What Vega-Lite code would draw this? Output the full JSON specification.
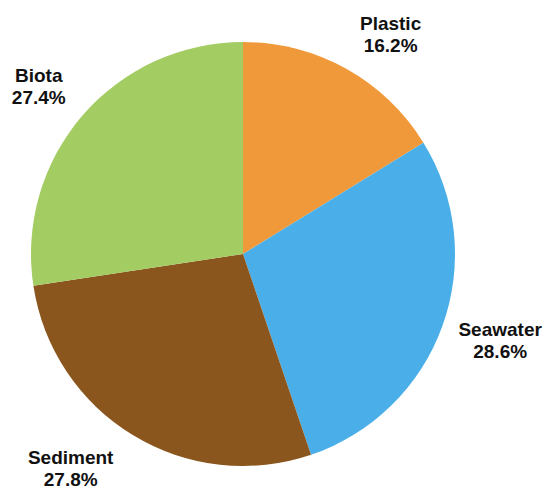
{
  "$schema": "https://vega.github.io/schema/vega-lite/v6.json",
  "width": 486,
  "height": 472,
  "autosize": {"type": "none"},
  "padding": {"left": 0, "top": 18, "right": 64, "bottom": 0},
  "background": "white",
  "view": {"stroke": null},
  "data": {
    "values": [
      {"name": "Plastic", "value": 16.2, "rank": 1, "label": "Plastic\n16.2%"},
      {"name": "Seawater", "value": 28.6, "rank": 2, "label": "Seawater\n28.6%"},
      {"name": "Sediment", "value": 27.8, "rank": 3, "label": "Sediment\n27.8%"},
      {"name": "Biota", "value": 27.4, "rank": 4, "label": "Biota\n27.4%"}
    ]
  },
  "encoding": {
    "theta": {"field": "value", "type": "quantitative", "stack": true},
    "order": {"field": "rank", "type": "quantitative"}
  },
  "layer": [
    {
      "mark": {"type": "arc", "outerRadius": 212},
      "encoding": {
        "color": {
          "field": "name",
          "type": "nominal",
          "scale": {
            "domain": ["Plastic", "Seawater", "Sediment", "Biota"],
            "range": ["#F0993A", "#4AAFE8", "#8B561E", "#A3CC63"]
          },
          "legend": null
        }
      }
    },
    {
      "mark": {"type": "text", "radius": 268, "dx": 17, "dy": 4, "lineBreak": "\n", "fontSize": 19, "fontWeight": "bold", "font": "Liberation Sans", "lineHeight": 22, "align": "center", "baseline": "middle", "color": "#111111"},
      "encoding": {"text": {"condition": {"test": "datum.name === 'Plastic'", "field": "label", "type": "nominal"}, "value": ""}}
    },
    {
      "mark": {"type": "text", "radius": 268, "dx": 5, "dy": -15, "lineBreak": "\n", "fontSize": 19, "fontWeight": "bold", "font": "Liberation Sans", "lineHeight": 22, "align": "center", "baseline": "middle", "color": "#111111"},
      "encoding": {"text": {"condition": {"test": "datum.name === 'Seawater'", "field": "label", "type": "nominal"}, "value": ""}}
    },
    {
      "mark": {"type": "text", "radius": 268, "dx": -33, "dy": -25, "lineBreak": "\n", "fontSize": 19, "fontWeight": "bold", "font": "Liberation Sans", "lineHeight": 22, "align": "center", "baseline": "middle", "color": "#111111"},
      "encoding": {"text": {"condition": {"test": "datum.name === 'Sediment'", "field": "label", "type": "nominal"}, "value": ""}}
    },
    {
      "mark": {"type": "text", "radius": 268, "dx": -1, "dy": -3, "lineBreak": "\n", "fontSize": 19, "fontWeight": "bold", "font": "Liberation Sans", "lineHeight": 22, "align": "center", "baseline": "middle", "color": "#111111"},
      "encoding": {"text": {"condition": {"test": "datum.name === 'Biota'", "field": "label", "type": "nominal"}, "value": ""}}
    }
  ]
}
